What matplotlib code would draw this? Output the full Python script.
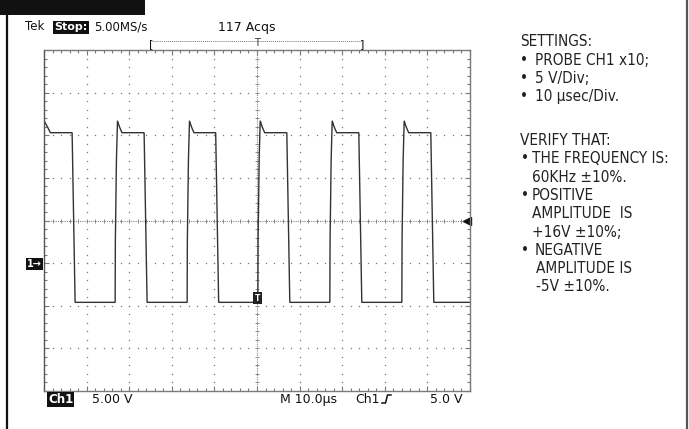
import matplotlib
matplotlib.use('Agg')
import matplotlib.pyplot as plt
from matplotlib import font_manager
from matplotlib.lines import Line2D
from matplotlib.patches import Rectangle
import numpy as np

# scope settings (10 us/div, 5 V/div, ground one division below centre)
time_div = 10.0
volt_div = 5.0
x_range = (-50.0, 50.0)
y_range = (-15.0, 25.0)

# waveform (us, V)
rise_us = [-33.3, -16.4, 0.2, 17.1, 34.0]
fall_us = [-43.4, -26.5, -9.7, 7.0, 23.9, 40.8]
high_v = 15.3
peak_v = 16.7
low_v = -4.6
edge_dt = [0.0, 0.05, 0.3, 0.55, 1.0, 1.6]
edge_v = [low_v, 2.5, 12.0, peak_v, 16.0, high_v]

settings_lines = [
    ('SETTINGS:', None),
    ('PROBE CH1 x10;', '•'),
    ('5 V/Div;', '•'),
    ('10 µsec/Div.', '•'),
]
verify_lines = [
    ('VERIFY THAT:', None, 520),
    ('THE FREQUENCY IS:', '•', 531.5),
    ('60KHz ±10%.', None, 531.5),
    ('POSITIVE', '•', 531.5),
    ('AMPLITUDE  IS', None, 531.5),
    ('+16V ±10%;', None, 531.5),
    ('NEGATIVE', '•', 535),
    ('AMPLITUDE IS', None, 536),
    ('-5V ±10%.', None, 536),
]

# pick a narrow face for the notes if one is installed
installed = {(f.name, f.stretch) for f in font_manager.fontManager.ttflist}
names = {n for n, _ in installed}
note_stretch = 'normal'
if 'Liberation Sans Narrow' in names:
    note_fam = ['Liberation Sans Narrow', 'DejaVu Sans']
elif ('DejaVu Sans', 'condensed') in installed or ('DejaVu Sans', 'semi-condensed') in installed:
    note_fam = ['DejaVu Sans']
    note_stretch = 'condensed'
else:
    note_fam = ['Roboto', 'DejaVu Sans']

W, H = 689, 429
def fx(x):
    return x / W
def fy(y):
    return 1 - y / H

fig = plt.figure(figsize=(W / 100, H / 100), dpi=100)
fig.patch.set_facecolor('white')

# outer frame
fig.add_artist(Rectangle((0, fy(15)), fx(145), 15 / H, transform=fig.transFigure,
                         color='#111111', lw=0))
fig.add_artist(Line2D([fx(7), fx(7)], [0, 1], transform=fig.transFigure,
                      color='#111111', lw=1.6))
fig.add_artist(Line2D([fx(687), fx(687)], [0, 1], transform=fig.transFigure,
                      color='#555555', lw=1.6))

ax = fig.add_axes([fx(44), 1 - 391 / H, 426 / W, 341 / H])
ax.set_xlim(*x_range)
ax.set_ylim(*y_range)
for s in ax.spines.values():
    s.set_color('#7a7a7a')
    s.set_linewidth(1.0)
ax.spines['left'].set_color('#555555')

ax.set_xticks(np.arange(x_range[0], x_range[1] + 0.1, time_div))
ax.set_xticks(np.arange(x_range[0], x_range[1] + 0.1, time_div / 5), minor=True)
ax.set_yticks(np.arange(y_range[0], y_range[1] + 0.1, volt_div))
ax.set_yticks(np.arange(y_range[0], y_range[1] + 0.1, volt_div / 5), minor=True)
ax.tick_params(which='both', direction='in', top=True, right=True,
               labelbottom=False, labelleft=False, color='#777777', width=0.8)
ax.tick_params(which='major', length=3.5)
ax.tick_params(which='minor', length=2.2)

# dotted graticule
xc = 0.0
yc = (y_range[0] + y_range[1]) / 2
xs_fine = np.arange(x_range[0], x_range[1] + 0.01, time_div / 5)
ys_fine = np.arange(y_range[0], y_range[1] + 0.01, volt_div / 5)
for gx in np.arange(x_range[0] + time_div, x_range[1], time_div):
    if gx == xc:
        continue
    ax.plot(np.full_like(ys_fine, gx), ys_fine, ls='none', marker='s', ms=0.9,
            color='#777777', mew=0)
for gy in np.arange(y_range[0] + volt_div, y_range[1], volt_div):
    if gy == yc:
        continue
    ax.plot(xs_fine, np.full_like(xs_fine, gy), ls='none', marker='s', ms=0.9,
            color='#777777', mew=0)
# centre cross with tick marks
ax.axvline(xc, color='#888888', lw=0.8, ls=(0, (1, 1)))
ax.axhline(yc, color='#888888', lw=0.8, ls=(0, (1, 1)))
ax.plot(xs_fine, np.full_like(xs_fine, yc), ls='none', marker='|', ms=3.5,
        color='#888888', mew=0.7)
ax.plot(np.full_like(ys_fine, xc), ys_fine, ls='none', marker='_', ms=3.5,
        color='#888888', mew=0.7)

# build the trace from the edges
t = [x_range[0], x_range[0] + 0.8, x_range[0] + 1.5]
v = [peak_v, 16.0, high_v]
for i, f in enumerate(fall_us):
    t += [f, f + 0.7]
    v += [high_v, low_v]
    if i < len(rise_us):
        r = rise_us[i]
        t += [r + d for d in edge_dt]
        v += edge_v
t.append(x_range[1])
v.append(low_v)
ax.plot(t, v, color='#333333', lw=1.0, solid_joinstyle='miter')

# trigger level arrow and trigger point marker
ax.plot([x_range[1] - 0.8], [yc], marker='<', ms=6, color='#111111', clip_on=False)
ax.text(0.2, -4.1, 'T', color='white', fontsize=5.5, ha='center', va='center',
        fontweight='bold',
        bbox=dict(boxstyle='square,pad=0.25', fc='#222222', ec='none'))

# scope header
top_base = fy(30.5)
hs = 8.5
fig.text(fx(25), top_base, 'Tek', fontsize=hs, va='baseline', color='#111111')
fig.text(fx(54), top_base, 'Stop:', fontsize=8, va='baseline', color='white',
         fontweight='bold',
         bbox=dict(boxstyle='square,pad=0.12', fc='#111111', ec='none'))
fig.text(fx(94), top_base, '5.00MS/s', fontsize=hs, va='baseline', color='#111111')
fig.text(fx(218), top_base, '117 Acqs', fontsize=9, va='baseline', color='#111111')
fig.add_artist(Line2D([fx(152), fx(362)], [fy(40.5), fy(40.5)], transform=fig.transFigure,
                      color='#777777', lw=0.7, ls=(0, (1, 1))))
fig.text(fx(149), fy(47), '[', fontsize=8, va='baseline', color='#111111')
fig.text(fx(360), fy(47), ']', fontsize=8, va='baseline', color='#111111')
fig.text(fx(257), fy(46), 'T', fontsize=7, va='baseline', ha='center', color='#333333')

# ground marker
fig.text(fx(27), fy(264), '1→', fontsize=7, va='center', color='white', fontweight='bold',
         bbox=dict(boxstyle='square,pad=0.15', fc='#111111', ec='none'))

# scope footer
bot_base = fy(403)
fs = 9
fig.text(fx(48), bot_base, 'Ch1', fontsize=8.5, va='baseline', color='white',
         fontweight='bold',
         bbox=dict(boxstyle='square,pad=0.1', fc='#111111', ec='none'))
fig.text(fx(92), bot_base, '5.00 V', fontsize=fs, va='baseline', color='#111111')
fig.text(fx(280), bot_base, 'M 10.0µs', fontsize=fs, va='baseline', color='#111111')
fig.text(fx(355), bot_base, 'Ch1', fontsize=fs, va='baseline', color='#111111')
fig.add_artist(Line2D([fx(382), fx(385.5), fx(387.5), fx(391)],
                      [fy(403), fy(403), fy(395), fy(395)],
                      transform=fig.transFigure, color='#111111', lw=1.1))
fig.text(fx(430), bot_base, '5.0 V', fontsize=fs, va='baseline', color='#111111')

# instructions panel
note_kw = dict(fontsize=11, family=note_fam, stretch=note_stretch, va='baseline',
               color='#222222')
step = 18.3
y0 = 46.5
for k, (txt, bullet) in enumerate(settings_lines):
    yb = fy(y0 + k * step)
    if bullet:
        fig.text(fx(520.5), yb, bullet, **note_kw)
        fig.text(fx(535), yb, txt, **note_kw)
    else:
        fig.text(fx(520), yb, txt, **note_kw)
y1 = 145.0
for k, (txt, bullet, x) in enumerate(verify_lines):
    yb = fy(y1 + k * step)
    if bullet:
        fig.text(fx(521), yb, bullet, **note_kw)
    fig.text(fx(x), yb, txt, **note_kw)

fig.savefig('out.png', dpi=100)
